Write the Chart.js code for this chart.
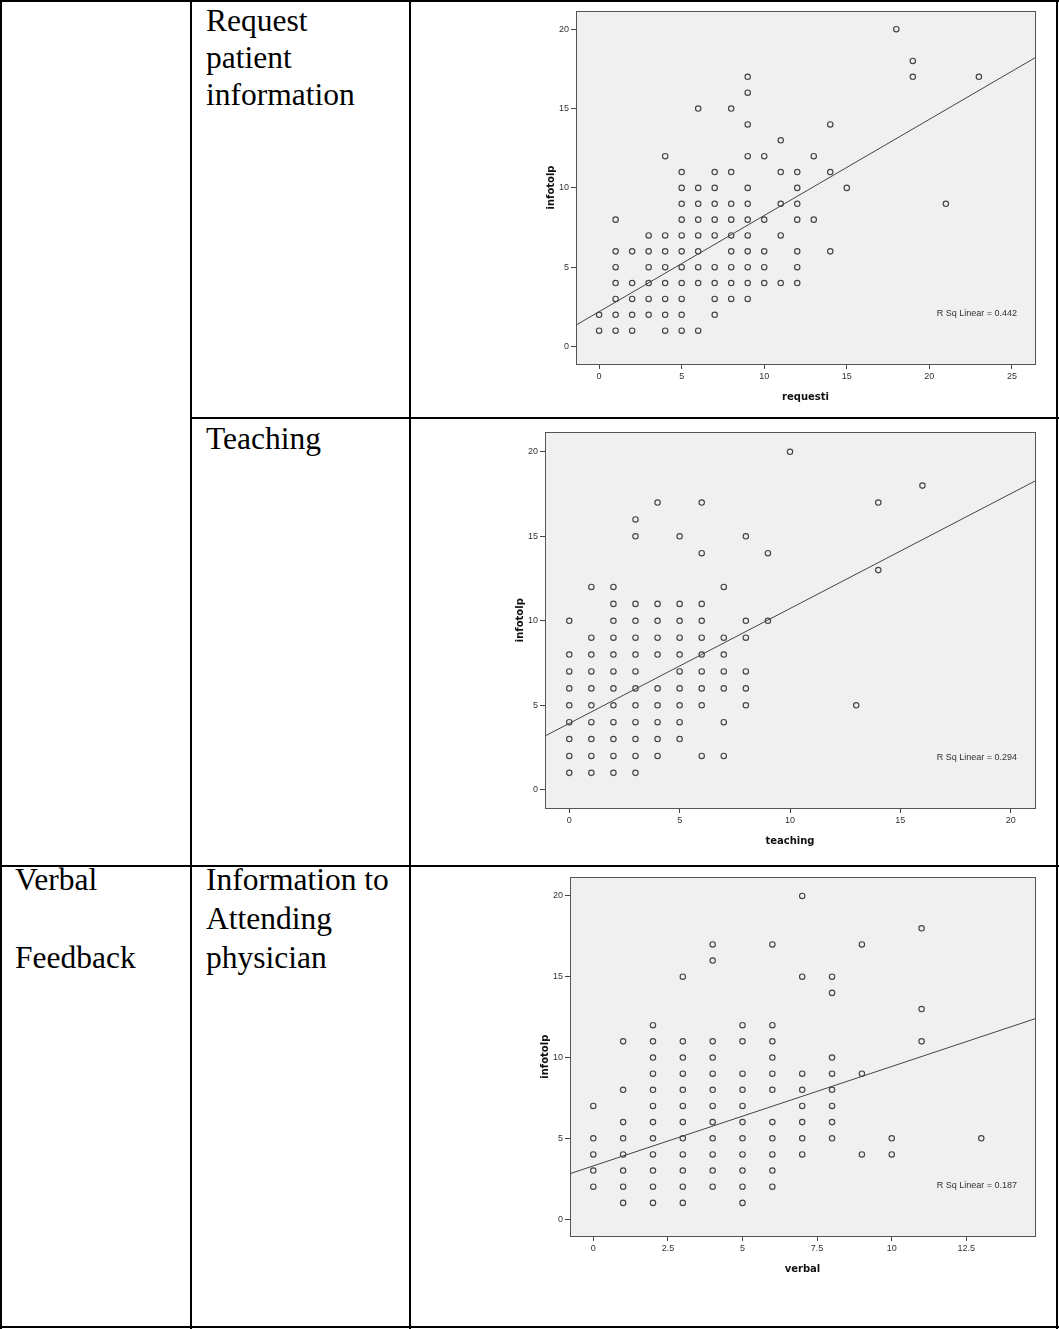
<!DOCTYPE html>
<html>
<head>
<meta charset="utf-8">
<script src="https://cdn.jsdelivr.net/npm/chart.js@4.4.0/dist/chart.umd.min.js"></script>
<style>
    body { margin: 0; background: #fff; width: 1059px; height: 1329px; position: relative; overflow: hidden; }
    .ln { position: absolute; background: #000; z-index: 2; }
    .txt { position: absolute; font-family: "Liberation Serif", "Times New Roman", serif; font-size: 31.5px; color: #000; white-space: nowrap; }
    canvas { position: absolute; }
</style>
</head>
<body>

<!-- table grid -->
<div class="ln" style="left:0;top:0;width:2px;height:1329px"></div>
<div class="ln" style="left:190px;top:0;width:2px;height:1329px"></div>
<div class="ln" style="left:409px;top:0;width:2px;height:1329px"></div>
<div class="ln" style="left:1056px;top:0;width:2px;height:1329px"></div>
<div class="ln" style="left:0;top:0;width:1059px;height:2px"></div>
<div class="ln" style="left:190px;top:417px;width:869px;height:2px"></div>
<div class="ln" style="left:0;top:865px;width:1059px;height:2px"></div>
<div class="ln" style="left:0;top:1326px;width:1059px;height:2px"></div>

<div class="txt" style="left:206px;top:2px;line-height:37px">Request<br>patient<br>information</div>
<div class="txt" style="left:206px;top:420px;line-height:37px">Teaching</div>
<div class="txt" style="left:15px;top:860px;line-height:39px">Verbal<br><br>Feedback</div>
<div class="txt" style="left:206px;top:860px;line-height:39px">Information to<br>Attending<br>physician</div>

<canvas id="chartRequest" width="550" height="415" style="left:500px;top:0"></canvas>
<canvas id="chartTeaching" width="570" height="440" style="left:480px;top:425px"></canvas>
<canvas id="chartVerbal" width="550" height="420" style="left:500px;top:870px"></canvas>

<script>
// infotolp values grouped by x value (one list per x)

// Request patient information: requesti vs infotolp
const requestiX = [0, 1, 2, 3, 4, 5, 6, 7, 8, 9, 10, 11, 12, 13, 14, 15, 18, 19, 21, 23];
const requestiY = [
    [1, 2],
    [1, 2, 3, 4, 5, 6, 8],
    [1, 2, 3, 4, 6],
    [2, 3, 4, 5, 6, 7],
    [1, 2, 3, 4, 5, 6, 7, 12],
    [1, 2, 3, 4, 5, 6, 7, 8, 9, 10, 11],
    [1, 4, 5, 6, 7, 8, 9, 10, 15],
    [2, 3, 4, 5, 7, 8, 9, 10, 11],
    [3, 4, 5, 6, 7, 8, 9, 11, 15],
    [3, 4, 5, 6, 7, 8, 9, 10, 12, 14, 16, 17],
    [4, 5, 6, 8, 12],
    [4, 7, 9, 11, 13],
    [4, 5, 6, 8, 9, 10, 11],
    [8, 12],
    [6, 11, 14],
    [10],
    [20],
    [17, 18],
    [9],
    [17]
];
const requestiFit = [[-1.4, 1.35], [26.4, 18.2]];
const requestiTicks = [0, 5, 10, 15, 20, 25];

// Teaching: teaching vs infotolp
const teachingX = [0, 1, 2, 3, 4, 5, 6, 7, 8, 9, 10, 13, 14, 16];
const teachingY = [
    [1, 2, 3, 4, 5, 6, 7, 8, 10],
    [1, 2, 3, 4, 5, 6, 7, 8, 9, 12],
    [1, 2, 3, 4, 5, 6, 7, 8, 9, 10, 11, 12],
    [1, 2, 3, 4, 5, 6, 7, 8, 9, 10, 11, 15, 16],
    [2, 3, 4, 5, 6, 8, 9, 10, 11, 17],
    [3, 4, 5, 6, 7, 8, 9, 10, 11, 15],
    [2, 5, 6, 7, 8, 9, 10, 11, 14, 17],
    [2, 4, 6, 7, 8, 9, 12],
    [5, 6, 7, 9, 10, 15],
    [10, 14],
    [20],
    [5],
    [13, 17],
    [18]
];
const teachingFit = [[-1.1, 3.18], [21.1, 18.27]];
const teachingTicks = [0, 5, 10, 15, 20];

// Information to attending physician: verbal vs infotolp
const verbalX = [0, 1, 2, 3, 4, 5, 6, 7, 8, 9, 10, 11, 13];
const verbalY = [
    [2, 3, 4, 5, 7],
    [1, 2, 3, 4, 5, 6, 8, 11],
    [1, 2, 3, 4, 5, 6, 7, 8, 9, 10, 11, 12],
    [1, 2, 3, 4, 5, 6, 7, 8, 9, 10, 11, 15],
    [2, 3, 4, 5, 6, 7, 8, 9, 10, 11, 16, 17],
    [1, 2, 3, 4, 5, 6, 7, 8, 9, 11, 12],
    [2, 3, 4, 5, 6, 8, 9, 10, 11, 12, 17],
    [4, 5, 6, 7, 8, 9, 15, 20],
    [5, 6, 7, 8, 9, 10, 14, 15],
    [4, 9, 17],
    [4, 5],
    [11, 13, 18],
    [5]
];
const verbalFit = [[-0.78, 2.81], [14.8, 12.4]];
const verbalTicks = [0, 2.5, 5, 7.5, 10, 12.5];

const infotolpTicks = [0, 5, 10, 15, 20];


const toPoints = (xs, ys) => xs.flatMap((x, i) => ys[i].map(y => ({ x: x, y: y })));

// grey plot background, frame, axis titles and the R Sq note
const spssFrame = {
    id: 'spssFrame',
    beforeDraw(chart) {
        const a = chart.chartArea, ctx = chart.ctx;
        ctx.save();
        ctx.fillStyle = '#f0f0f0';
        ctx.fillRect(a.left, a.top, a.right - a.left, a.bottom - a.top);
        ctx.restore();
    },
    afterDraw(chart, args, opts) {
        const a = chart.chartArea, ctx = chart.ctx;
        ctx.save();
        ctx.strokeStyle = '#555';
        ctx.lineWidth = 1;
        ctx.strokeRect(Math.round(a.left) + 0.5, Math.round(a.top) + 0.5,
            Math.round(a.right - a.left), Math.round(a.bottom - a.top));

        ctx.fillStyle = '#333';
        ctx.font = '9px "Liberation Sans", Arial, sans-serif';
        ctx.textAlign = 'right';
        ctx.textBaseline = 'middle';
        ctx.fillText(opts.note, a.right - 18, a.bottom - 50);

        ctx.fillStyle = '#111';
        ctx.font = 'bold 10px "DejaVu Sans", Verdana, sans-serif';
        ctx.textAlign = 'center';
        ctx.fillText(opts.xTitle, (a.left + a.right) / 2, a.bottom + 33);
        ctx.translate(a.left - 25, (a.top + a.bottom) / 2);
        ctx.rotate(-Math.PI / 2);
        ctx.fillText(opts.yTitle, 0, 0);
        ctx.restore();
    }
};

function axis(min, max, ticks, fit) {
    return {
        type: 'linear',
        min: min,
        max: max,
        afterBuildTicks: s => { s.ticks = ticks.map(v => ({ value: v })); },
        afterFit: fit,
        border: { display: false },
        grid: { drawOnChartArea: false, drawTicks: true, tickLength: 5, tickColor: '#444', lineWidth: 1 },
        ticks: {
            color: '#333',
            font: { family: '"Liberation Sans", Arial, sans-serif', size: 9 },
            padding: 2,
            maxRotation: 0,
            autoSkip: false,
            callback: v => String(v)
        }
    };
}

function renderScatter(id, c) {
    return new Chart(document.getElementById(id), {
        type: 'scatter',
        data: {
            datasets: [
                {
                    data: c.points,
                    pointRadius: 2.7,
                    pointHoverRadius: 2.7,
                    pointBorderWidth: 1.15,
                    borderColor: '#444',
                    backgroundColor: 'rgba(0,0,0,0)'
                },
                {
                    type: 'line',
                    data: c.fit.map(p => ({ x: p[0], y: p[1] })),
                    borderColor: '#444',
                    borderWidth: 1,
                    pointRadius: 0,
                    fill: false,
                    tension: 0
                }
            ]
        },
        options: {
            responsive: false,
            animation: false,
            events: [],
            layout: { padding: c.padding, autoPadding: false },
            plugins: {
                legend: { display: false },
                tooltip: { enabled: false },
                spssFrame: { note: c.note, xTitle: c.xTitle, yTitle: 'infotolp' }
            },
            scales: {
                x: axis(c.xMin, c.xMax, c.xTicks, s => { s.height = c.xHeight; }),
                y: axis(c.yMin, c.yMax, infotolpTicks, s => { s.width = c.yWidth; })
            }
        },
        plugins: [spssFrame]
    });
}

renderScatter('chartRequest', {
    points: toPoints(requestiX, requestiY),
    fit: requestiFit,
    xTicks: requestiTicks,
    xMin: -1.4, xMax: 26.4, yMin: -1.1, yMax: 21.15,
    padding: { left: 0, top: 11, right: 15, bottom: 0 },
    yWidth: 76, xHeight: 51,
    note: 'R Sq Linear = 0.442',
    xTitle: 'requesti'
});

renderScatter('chartTeaching', {
    points: toPoints(teachingX, teachingY),
    fit: teachingFit,
    xTicks: teachingTicks,
    xMin: -1.1, xMax: 21.1, yMin: -1.08, yMax: 21.15,
    padding: { left: 0, top: 6, right: 15, bottom: 0 },
    yWidth: 65, xHeight: 57,
    note: 'R Sq Linear = 0.294',
    xTitle: 'teaching'
});

renderScatter('chartVerbal', {
    points: toPoints(verbalX, verbalY),
    fit: verbalFit,
    xTicks: verbalTicks,
    xMin: -0.78, xMax: 14.8, yMin: -1.05, yMax: 21.15,
    padding: { left: 0, top: 6, right: 15, bottom: 0 },
    yWidth: 70, xHeight: 54,
    note: 'R Sq Linear = 0.187',
    xTitle: 'verbal'
});
</script>
</body>
</html>
